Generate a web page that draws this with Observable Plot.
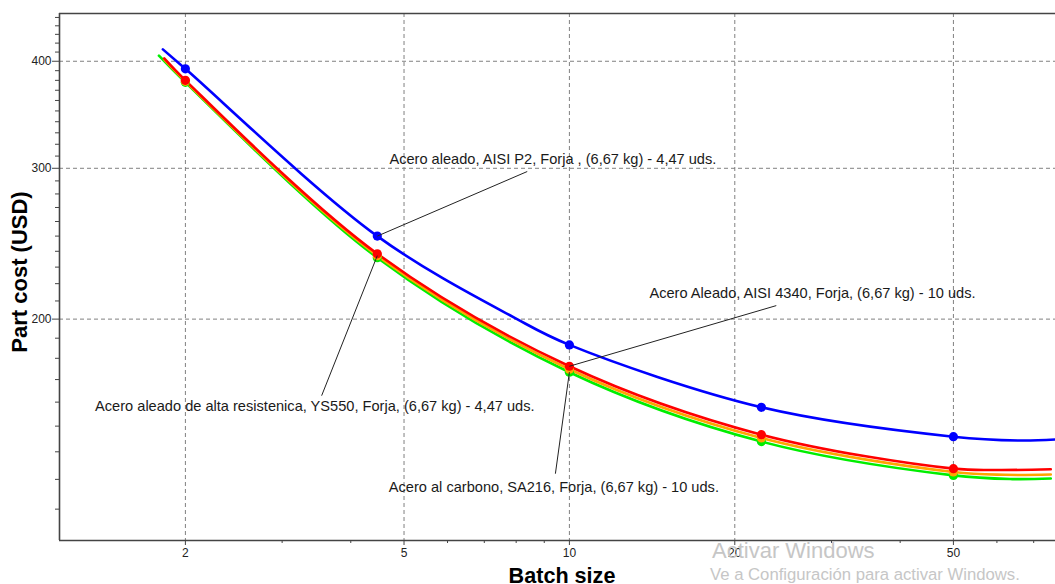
<!DOCTYPE html>
<html><head><meta charset="utf-8">
<script src="https://cdn.jsdelivr.net/npm/d3@7"></script>
<script src="https://cdn.jsdelivr.net/npm/@observablehq/plot@0.6"></script>
<style>
body{margin:0;background:#fff;overflow:hidden}
#wrap{position:relative;width:1055px;height:584px}
.wm{position:absolute;font-family:"Liberation Sans",Arial,sans-serif;color:#c6c6c6;white-space:nowrap}
</style></head><body><div id="wrap"></div>
<script>
// ---- scales / ticks ----
const xDomain = [1.18, 76.7];
const yDomain = [110.3, 454.8];
const xMajorTicks = [2, 5, 10, 20, 50];
const xMinorTicks = [3, 4, 6, 7, 8, 9, 30, 40, 60, 70];
const yMajorTicks = [200, 300, 400];
const yMinorTicks = [120, 130, 140, 150, 160, 170, 180, 190, 210, 220, 230, 240, 250, 260, 270, 280, 290,
  310, 320, 330, 340, 350, 360, 370, 380, 390, 410, 420, 430, 440, 450];

// ---- series ----
const seriesNames = ["AISI P2", "AISI 4340", "YS550", "SA216"];
const seriesColors = ["#0000ff", "#ff0000", "#ffa500", "#00ee00"];

// marker points
const markerX = [2, 4.47, 10, 22.36, 50];
const markerP2 = [392, 250, 186.6, 157.8, 145.8];
const marker4340 = [380, 238.4, 176.2, 146.6, 133.8];
const markerYS550 = [379, 237.2, 174.8, 145.3, 132.6];
const markerSA216 = [378, 235.9, 173.4, 143.9, 131.4];

// curve points
const curveXP2 = [1.82, 2, 4.47, 8.03, 10, 22.36, 50, 66, 76.7];
const curveYP2 = [413, 392, 250, 200, 186.6, 157.8, 145.8, 144.3, 144.7];
const curveX4340 = [1.83, 2, 4.47, 10, 22.36, 50, 60, 75.2];
const curveY4340 = [403, 380, 238.4, 176.2, 146.6, 133.8, 133.3, 133.6];
const curveXYS550 = [1.83, 2, 4.47, 10, 22.36, 50, 62, 75.2];
const curveYYS550 = [402, 379, 237.2, 174.8, 145.3, 132.6, 131.6, 131.7];
const curveXSA216 = [1.79, 2, 4.47, 10, 22.36, 50, 64, 75.2];
const curveYSA216 = [406, 378, 235.9, 173.4, 143.9, 131.4, 130.1, 130.3];

// annotations
const labelTexts = [
  "Acero aleado, AISI P2, Forja , (6,67 kg) - 4,47 uds.",
  "Acero Aleado, AISI 4340, Forja, (6,67 kg) - 10 uds.",
  "Acero aleado de alta resistenica, YS550, Forja, (6,67 kg) - 4,47 uds.",
  "Acero al carbono, SA216, Forja, (6,67 kg) - 10 uds."
];
const labelX = [9.33, 27.7, 3.44, 9.37];
const labelY = [307.1, 214.2, 158.1, 127.2];
const leaderFromX = [4.47, 10, 4.47, 10];
const leaderFromY = [250, 176.2, 237.2, 173.4];
const leaderToX = [8.38, 23.8, 3.54, 9.43];
const leaderToY = [297.4, 207.4, 162.8, 132.0];

// ---- build tables ----
const curves = [
  [curveXP2, curveYP2], [curveX4340, curveY4340], [curveXYS550, curveYYS550], [curveXSA216, curveYSA216]
];
const markers = [markerP2, marker4340, markerYS550, markerSA216];
const drawOrder = [3, 2, 1, 0];

const lineMarks = drawOrder.map(i => Plot.line(
  curves[i][0].map((x, j) => ({x, y: curves[i][1][j]})),
  {x: "x", y: "y", stroke: seriesColors[i], strokeWidth: 2.6, curve: "catmull-rom"}
));
const dotMarks = drawOrder.map(i => Plot.dot(
  markerX.map((x, j) => ({x, y: markers[i][j]})),
  {x: "x", y: "y", r: 4.6, fill: seriesColors[i], stroke: "none"}
));
const annotations = labelTexts.map((t, i) => ({
  text: t, x: labelX[i], y: labelY[i],
  x1: leaderFromX[i], y1: leaderFromY[i], x2: leaderToX[i], y2: leaderToY[i]
}));

const axisStroke = "#444";
const chart = Plot.plot({
  width: 1055, height: 584,
  marginLeft: 59, marginTop: 13, marginRight: 0, marginBottom: 44,
  x: {type: "log", domain: xDomain, label: null},
  y: {type: "log", domain: yDomain, label: null},
  style: {fontFamily: "'Liberation Sans', Arial, sans-serif", fontSize: "12px", color: "#222", background: "#fff"},
  marks: [
    Plot.gridX(xMajorTicks, {stroke: "#808080", strokeOpacity: 1, strokeDasharray: "4,3"}),
    Plot.gridY(yMajorTicks, {stroke: "#808080", strokeOpacity: 1, strokeDasharray: "4,3"}),
    Plot.ruleX([xDomain[0]], {stroke: axisStroke, strokeWidth: 1.6}),
    Plot.ruleY([yDomain[0]], {stroke: axisStroke, strokeWidth: 1.6}),
    Plot.ruleY([yDomain[1]], {stroke: axisStroke, strokeWidth: 1.6}),
    Plot.axisX(xMajorTicks, {tickSize: 5, tickPadding: 3, tickFormat: d => String(d), stroke: axisStroke, fill: "#222", label: null}),
    Plot.axisX(xMinorTicks, {tickSize: 3, fill: "none", stroke: axisStroke, label: null}),
    Plot.axisY(yMajorTicks, {tickSize: 7, tickPadding: 1, tickFormat: d => String(d), stroke: axisStroke, fill: "#222", label: null}),
    Plot.axisY(yMinorTicks, {tickSize: 4, fill: "none", stroke: axisStroke, label: null}),
    ...lineMarks,
    ...dotMarks,
    Plot.link(annotations, {x1: "x1", y1: "y1", x2: "x2", y2: "y2", stroke: "#222", strokeWidth: 1}),
    Plot.text(annotations, {x: "x", y: "y", text: "text", fontSize: 14.6, fill: "#1a1a1a", textAnchor: "middle", lineAnchor: "middle"}),
    Plot.text(["Batch size"], {frameAnchor: "bottom", dx: 4.5, dy: 42.5, lineAnchor: "bottom", fontSize: 21.6, fontWeight: "bold", fill: "#000"}),
    Plot.text(["Part cost (USD)"], {frameAnchor: "left", rotate: -90, dx: -32.5, dy: -5, lineAnchor: "bottom", textAnchor: "middle", fontSize: 22, fontWeight: "bold", fill: "#000"})
  ]
});
const wrap = document.getElementById("wrap");
wrap.appendChild(chart);
const w1 = document.createElement("div");
w1.className = "wm"; w1.textContent = "Activar Windows";
w1.style.cssText = "left:712px;top:540px;font-size:22px;line-height:22px";
const w2 = document.createElement("div");
w2.className = "wm"; w2.textContent = "Ve a Configuración para activar Windows.";
w2.style.cssText = "left:710px;top:567px;font-size:16.7px;line-height:16.7px";
wrap.appendChild(w1); wrap.appendChild(w2);
</script></body></html>
